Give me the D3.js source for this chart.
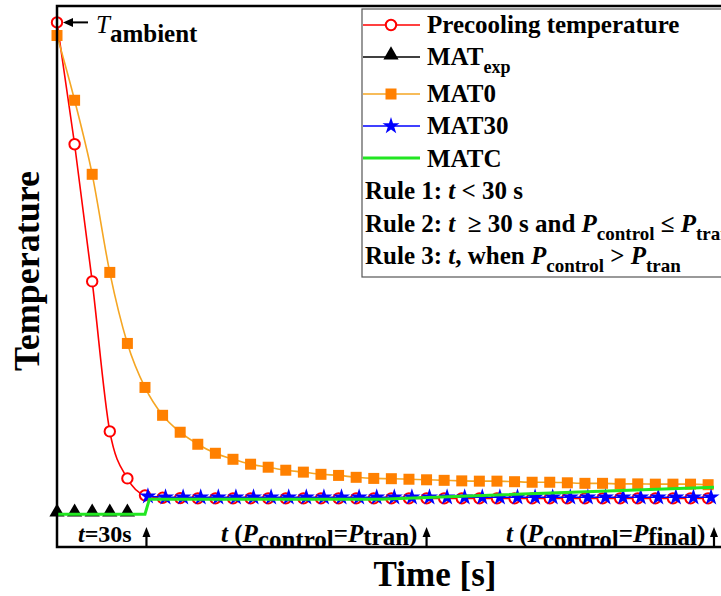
<!DOCTYPE html>
<html>
<head>
<meta charset="utf-8">
<script src="https://cdn.jsdelivr.net/npm/d3@7"></script>
<style>
  body { margin: 0; background: #fff; }
  svg { display: block; font-family: 'Liberation Serif', 'Times New Roman', serif; }
</style>
</head>
<body>
<div id="chart"></div>
<script>
// time axis in seconds, markers every 6 s
var timePre = [0, 6, 12, 18, 24, 30, 36, 42, 48, 54, 60, 66, 72, 78, 84, 90, 96, 102, 108,
  114, 120, 126, 132, 138, 144, 150, 156, 162, 168, 174, 180, 186, 192, 198, 204, 210, 216, 222];
var precooling = [30.0, 25.54, 20.52, 15.03, 13.31, 12.69, 12.6, 12.59, 12.58, 12.58, 12.58, 12.58,
  12.58, 12.58, 12.58, 12.58, 12.58, 12.58, 12.58, 12.58, 12.58, 12.58, 12.58, 12.58, 12.58, 12.58,
  12.58, 12.58, 12.58, 12.58, 12.58, 12.58, 12.58, 12.58, 12.58, 12.58, 12.58, 12.58];
var mat0 = [29.52, 27.15, 24.44, 20.85, 18.25, 16.64, 15.62, 15.0, 14.56, 14.23, 14.01, 13.83,
  13.72, 13.61, 13.54, 13.46, 13.42, 13.35, 13.31, 13.3, 13.28, 13.26, 13.24, 13.22, 13.21, 13.21,
  13.19, 13.17, 13.17, 13.15, 13.13, 13.13, 13.11, 13.11, 13.1, 13.1, 13.1, 13.08];

var time30 = [31, 37, 43, 49, 55, 61, 67, 73, 79, 85, 91, 97, 103, 109, 115, 121, 127, 133, 139,
  145, 151, 157, 163, 169, 175, 181, 187, 193, 199, 205, 211, 217, 223];
var mat30 = [12.66, 12.62, 12.62, 12.62, 12.62, 12.62, 12.62, 12.62, 12.62, 12.62, 12.62, 12.62,
  12.62, 12.62, 12.62, 12.62, 12.62, 12.62, 12.62, 12.62, 12.62, 12.62, 12.62, 12.62, 12.62, 12.62,
  12.62, 12.62, 12.62, 12.62, 12.62, 12.62, 12.62];

var timeExp = [0, 6, 12, 18, 24];
var matExp = [12.0, 12.0, 12.0, 12.0, 12.0];

var timeC = [0, 30, 31.5, 110, 224];
var matC = [12.0, 12.0, 12.55, 12.55, 12.99];

var ambient = 30.0;
var arrowTimes = [30.5, 126, 224];

var width = 721, height = 596;
var margin = { top: 6, left: 57, bottom: 49 };

var svg = d3.select('#chart').append('svg')
  .attr('width', width)
  .attr('height', height);

var x = d3.scaleLinear().domain([0, 240]).range([margin.left, margin.left + 240 * 2.933]);
var y = d3.scaleLinear().domain([10.8, 30.6]).range([height - margin.bottom, margin.top]);

var zip = (t, v) => t.map((d, i) => ({ t: d, v: v[i] }));

var smooth = d3.line().x(d => x(d.t)).y(d => y(d.v)).curve(d3.curveMonotoneX);
var straight = d3.line().x(d => x(d.t)).y(d => y(d.v));

var plot = svg.append('g');

// precooling temperature
var pre = zip(timePre, precooling);
plot.append('path').attr('d', smooth(pre))
  .attr('fill', 'none').attr('stroke', '#f00').attr('stroke-width', 1.6);
plot.selectAll('.pre').data(pre).enter().append('circle')
  .attr('cx', d => x(d.t)).attr('cy', d => y(d.v)).attr('r', 5.2)
  .attr('fill', '#fff').attr('stroke', '#f00').attr('stroke-width', 2);

// MAT exp
var exp = zip(timeExp, matExp);
plot.append('path').attr('d', straight(exp))
  .attr('fill', 'none').attr('stroke', '#000').attr('stroke-width', 1.5);
plot.selectAll('.exp').data(exp).enter().append('path')
  .attr('d', d3.symbol(d3.symbolTriangle, 100))
  .attr('transform', d => `translate(${x(d.t)},${y(d.v) - 2})`)
  .attr('fill', '#000');

// MAT0
var m0 = zip(timePre, mat0);
plot.append('path').attr('d', smooth(m0))
  .attr('fill', 'none').attr('stroke', '#f5a623').attr('stroke-width', 1.6);
plot.selectAll('.m0').data(m0).enter().append('rect')
  .attr('x', d => x(d.t) - 5.5).attr('y', d => y(d.v) - 5.5)
  .attr('width', 11).attr('height', 11)
  .attr('fill', '#ff8000');

// MAT30
var m30 = zip(time30, mat30);
plot.append('path').attr('d', straight(m30))
  .attr('fill', 'none').attr('stroke', '#00f').attr('stroke-width', 1.5);
plot.selectAll('.m30').data(m30).enter().append('path')
  .attr('d', d3.symbol(d3.symbolStar, 90))
  .attr('transform', d => `translate(${x(d.t)},${y(d.v)})`)
  .attr('fill', '#00f');

// MATC
plot.append('path').attr('d', straight(zip(timeC, matC)))
  .attr('fill', 'none').attr('stroke', '#22e622').attr('stroke-width', 3);

// frame
svg.append('rect')
  .attr('x', margin.left).attr('y', margin.top)
  .attr('width', 760).attr('height', height - margin.bottom - margin.top)
  .attr('fill', 'none').attr('stroke', '#000').attr('stroke-width', 2.5);

// T ambient marker
var ay = y(ambient);
svg.append('line').attr('x1', 88).attr('x2', 70).attr('y1', ay).attr('y2', ay)
  .attr('stroke', '#000').attr('stroke-width', 2);
svg.append('path').attr('d', `M63,${ay} L73,${ay - 4.5} L73,${ay + 4.5} Z`).attr('fill', '#000');
var amb = svg.append('text').attr('x', 96).attr('y', 33).attr('font-size', 25);
amb.append('tspan').attr('font-style', 'italic').text('T');
amb.append('tspan').attr('font-weight', 'bold').attr('dy', 9).text('ambient');

// up arrows at the bottom
var yb = height - margin.bottom;
arrowTimes.forEach(function(t) {
  var ax = x(t);
  svg.append('line').attr('x1', ax).attr('x2', ax).attr('y1', yb).attr('y2', yb - 13)
    .attr('stroke', '#000').attr('stroke-width', 2.2);
  svg.append('path').attr('d', `M${ax},${yb - 20} L${ax - 4},${yb - 10} L${ax + 4},${yb - 10} Z`)
    .attr('fill', '#000');
});

function richText(g, xPos, yPos, size, parts) {
  var txt = g.append('text').attr('x', xPos).attr('y', yPos)
    .attr('font-size', size).attr('font-weight', 'bold')
    .style('white-space', 'pre');
  var shift = 0;
  parts.forEach(function(p) {
    var span = txt.append('tspan').text(p.s);
    if (p.i) span.attr('font-style', 'italic');
    var target = p.sub ? p.sub : 0;
    if (target !== shift) { span.attr('dy', target - shift); shift = target; }
    if (p.fs) span.attr('font-size', p.fs);
  });
  return txt;
}

richText(svg, 78, 542, 24, [{ s: 't', i: 1 }, { s: '=30s' }]);
richText(svg, 221, 542, 25, [
  { s: 't', i: 1 }, { s: ' (' }, { s: 'P', i: 1 }, { s: 'control', sub: 6 },
  { s: '=' }, { s: 'P', i: 1 }, { s: 'tran', sub: 3 }, { s: ')' }]);
richText(svg, 506, 542, 25, [
  { s: 't', i: 1 }, { s: ' (' }, { s: 'P', i: 1 }, { s: 'control', sub: 6 },
  { s: '=' }, { s: 'P', i: 1 }, { s: 'final', sub: 3 }, { s: ')' }]);

// axis titles
svg.append('text').attr('x', 435).attr('y', 586)
  .attr('text-anchor', 'middle').attr('font-size', 35).attr('font-weight', 'bold')
  .text('Time [s]');
svg.append('text').attr('transform', 'translate(39,271) rotate(-90)')
  .attr('text-anchor', 'middle').attr('font-size', 36).attr('font-weight', 'bold')
  .text('Temperature');

// legend
var legend = svg.append('g');
legend.append('rect').attr('x', 362).attr('y', 9).attr('width', 420).attr('height', 268)
  .attr('fill', '#fff').attr('stroke', '#555').attr('stroke-width', 1.2);

var lx0 = 363, lx1 = 420, lm = 391, tx = 427;
function legLine(yy, color, w) {
  legend.append('line').attr('x1', lx0).attr('x2', lx1).attr('y1', yy).attr('y2', yy)
    .attr('stroke', color).attr('stroke-width', w);
}
legLine(25, '#f00', 1.6);
legend.append('circle').attr('cx', lm).attr('cy', 25).attr('r', 5.2)
  .attr('fill', '#fff').attr('stroke', '#f00').attr('stroke-width', 2);
legLine(57, '#000', 1.5);
legend.append('path').attr('d', d3.symbol(d3.symbolTriangle, 100))
  .attr('transform', `translate(${lm},55)`).attr('fill', '#000');
legLine(94, '#f5a623', 1.6);
legend.append('rect').attr('x', lm - 5.5).attr('y', 88.5).attr('width', 11).attr('height', 11)
  .attr('fill', '#ff8000');
legLine(126, '#00f', 1.5);
legend.append('path').attr('d', d3.symbol(d3.symbolStar, 90))
  .attr('transform', `translate(${lm},126)`).attr('fill', '#00f');
legLine(158, '#22e622', 3);

richText(legend, tx, 33, 25, [{ s: 'Precooling temperature' }]);
richText(legend, tx, 65, 25, [{ s: 'MAT' }, { s: 'exp', sub: 8, fs: 18 }]);
richText(legend, tx, 102, 25, [{ s: 'MAT0' }]);
richText(legend, tx, 134, 25, [{ s: 'MAT30' }]);
richText(legend, tx, 167, 25, [{ s: 'MATC' }]);
richText(legend, 365, 199, 25, [{ s: 'Rule 1: ' }, { s: 't', i: 1 }, { s: ' < 30 s' }]);
richText(legend, 365, 232, 25, [
  { s: 'Rule 2: ' }, { s: 't', i: 1 }, { s: '  \u2265 30 s and ' }, { s: 'P', i: 1 },
  { s: 'control', sub: 8, fs: 19 }, { s: ' \u2264 ' }, { s: 'P', i: 1 }, { s: 'tran', sub: 8, fs: 19 }]);
richText(legend, 365, 264, 25, [
  { s: 'Rule 3: ' }, { s: 't', i: 1 }, { s: ', when ' }, { s: 'P', i: 1 },
  { s: 'control', sub: 8, fs: 19 }, { s: ' > ' }, { s: 'P', i: 1 }, { s: 'tran', sub: 8, fs: 19 }]);
</script>
</body>
</html>
